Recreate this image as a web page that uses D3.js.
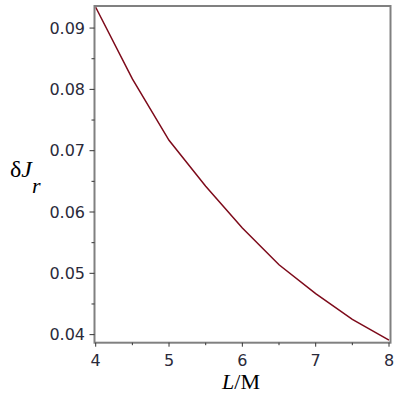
<!DOCTYPE html>
<html>
<head>
<meta charset="utf-8">
<script src="https://cdn.jsdelivr.net/npm/d3@7"></script>
<style>
  body { margin: 0; background: #fff; }
  svg { display: block; }
</style>
</head>
<body>
<div id="chart"></div>
<script>
/* data */
const lValues = [4, 4.5, 5, 5.5, 6, 6.5, 7, 7.5, 8]
const dJr = [0.0934, 0.0817, 0.0717, 0.0642, 0.0574, 0.0514, 0.0467, 0.0425, 0.0391]
const xTicks = [4, 5, 6, 7, 8]
const xMinorTicks = [4.5, 5.5, 6.5, 7.5]
const yTicks = [0.04, 0.05, 0.06, 0.07, 0.08, 0.09]
const yMinorTicks = [0.045, 0.055, 0.065, 0.075, 0.085]

const width = 400
const height = 400

const svg = d3.select("#chart").append("svg")
    .attr("width", width)
    .attr("height", height)

const x = d3.scaleLinear().domain([4, 8]).range([95.7, 389])
const y = d3.scaleLinear().domain([0.0387, 0.0936]).range([342.6, 6])

const frame = { left: 94.5, right: 390.5, top: 6, bottom: 342.7 }

// curve
const line = d3.line()
    .x((d, i) => x(lValues[i]))
    .y(d => y(d))

svg.append("path")
    .datum(dJr)
    .attr("d", line)
    .attr("fill", "none")
    .attr("stroke", "#7d0a1a")
    .attr("stroke-width", 1.5)

// frame
svg.append("rect")
    .attr("x", frame.left)
    .attr("y", frame.top)
    .attr("width", frame.right - frame.left)
    .attr("height", frame.bottom - frame.top)
    .attr("fill", "none")
    .attr("stroke", "#808080")
    .attr("stroke-width", 2)

// y ticks
svg.selectAll(".ytick").data(yTicks).join("line")
    .attr("x1", frame.left - 5).attr("x2", frame.left)
    .attr("y1", d => y(d)).attr("y2", d => y(d))
    .attr("stroke", "#333").attr("stroke-width", 1)

svg.selectAll(".yminor").data(yMinorTicks).join("line")
    .attr("x1", frame.left - 3).attr("x2", frame.left)
    .attr("y1", d => y(d)).attr("y2", d => y(d))
    .attr("stroke", "#333").attr("stroke-width", 1)

svg.selectAll(".ylabel").data(yTicks).join("text")
    .attr("x", 85)
    .attr("y", d => y(d))
    .attr("dy", "0.36em")
    .attr("text-anchor", "end")
    .attr("font-family", "DejaVu Sans, sans-serif")
    .attr("font-size", 16)
    .attr("fill", "#2a2a3a")
    .text(d => d3.format(".2f")(d))

// x ticks
svg.selectAll(".xtick").data(xTicks).join("line")
    .attr("x1", d => x(d)).attr("x2", d => x(d))
    .attr("y1", frame.bottom).attr("y2", frame.bottom + 4)
    .attr("stroke", "#333").attr("stroke-width", 1)

svg.selectAll(".xminor").data(xMinorTicks).join("line")
    .attr("x1", d => x(d)).attr("x2", d => x(d))
    .attr("y1", frame.bottom).attr("y2", frame.bottom + 2.5)
    .attr("stroke", "#333").attr("stroke-width", 1)

svg.selectAll(".xlabel").data(xTicks).join("text")
    .attr("x", d => x(d))
    .attr("y", 366)
    .attr("text-anchor", "middle")
    .attr("font-family", "DejaVu Sans, sans-serif")
    .attr("font-size", 16)
    .attr("fill", "#2a2a3a")
    .text(d => d)

// axis titles
const xTitle = svg.append("text")
    .attr("x", 241)
    .attr("y", 389)
    .attr("text-anchor", "middle")
    .attr("font-family", "Liberation Serif, serif")
    .attr("font-size", 22)
    .attr("fill", "#000")
xTitle.append("tspan").attr("font-style", "italic").text("L")
xTitle.append("tspan").text("/M")

const yTitle = svg.append("text")
    .attr("x", 10)
    .attr("y", 177)
    .attr("font-family", "Liberation Serif, serif")
    .attr("font-size", 24)
    .attr("fill", "#000")
yTitle.append("tspan").text("δ")
yTitle.append("tspan").attr("font-style", "italic").text("J")
yTitle.append("tspan")
    .attr("x", 32).attr("y", 193)
    .attr("font-style", "italic")
    .attr("font-size", 22)
    .text("r")
</script>
</body>
</html>
